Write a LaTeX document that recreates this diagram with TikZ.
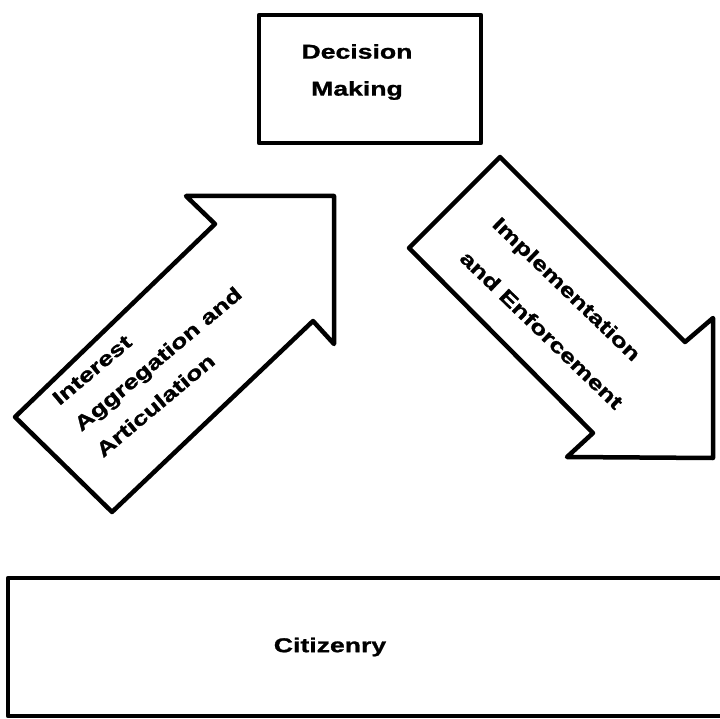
\documentclass[tikz,border=0pt]{standalone}
\usepackage{fontspec}
\newfontfamily\labelfont{Liberation Sans}[FakeStretch=1.33,FakeBold=1.2]
\begin{document}
\begin{tikzpicture}[x=1pt,y=-1pt,line join=round,line cap=round,line width=4.5pt]
	\tikzset{lbl/.style={inner sep=0pt,font=\labelfont\bfseries\fontsize{20}{#1}\selectfont},
		lbl/.default=37}
	\useasboundingbox (0,0) rectangle (720,719);
	\clip (0,0) rectangle (720,719);
	% top box
	\node[draw,minimum width=222pt,minimum height=128pt] (decision) at (370,79) {};
	\node[lbl,align=center] (decisiontext) at (357,72) {Decision\\Making};
	% arrow going up
	\draw (15,417)--(112,512)--(313,321)--(334,344)--(334,196)--(186,196)--(215,224)--cycle;
	\node[lbl=34,align=left,rotate=40] (interest) at (158,359) {Interest\\Aggregation and\\Articulation};
	% arrow going down
	\draw (409,248)--(500,157)--(685,342)--(713,318)--(713,458)--(567,457)--(593,433)--cycle;
	\node[lbl=47,align=left,rotate=-44] (implement) at (558,313) {Implementation\\and Enforcement};
	% bottom box
	\draw (8,578) rectangle (730,716);
	\node[lbl] (citizenry) at (330,647) {Citizenry};
\end{tikzpicture}
\end{document}
